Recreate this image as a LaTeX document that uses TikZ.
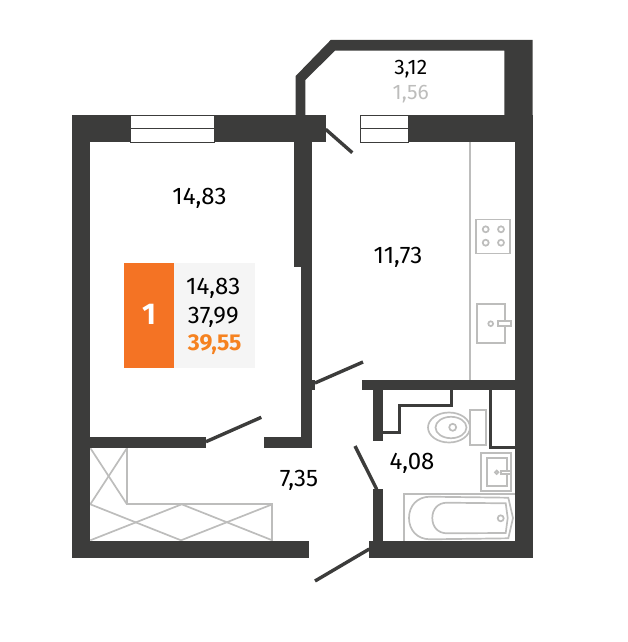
\documentclass[tikz,border=0pt]{standalone}
\usepackage{fontspec}
\setmainfont{Fira Sans}
\definecolor{wallgray}{HTML}{3C3C3B}
\definecolor{fixgray}{HTML}{BDBDBC}
\definecolor{paleblock}{HTML}{F5F5F5}
\definecolor{brandorange}{HTML}{F47324}
\definecolor{sumorange}{HTML}{F58220}
\begin{document}
\begin{tikzpicture}[x=1pt,y=-1pt]
	\tikzstyle{wall} = [fill=wallgray]
	\tikzstyle{leaf} = [draw=wallgray, line width=3.4pt]
	\tikzstyle{thinwall} = [draw=wallgray, line width=3pt]
	\tikzstyle{fixture} = [draw=fixgray, line width=1.7pt]
	\tikzstyle{pane} = [draw=wallgray, fill=white, line width=1pt]
	\tikzstyle{area} = [font=\fontsize{24}{28}\selectfont, inner sep=0pt]
	\useasboundingbox (0,0) rectangle (628,642);
	% kitchen
	\draw[fixture] (470,142) -- (470,380);
	\draw[fixture] (476,219.5) rectangle (510,253.5);
	\foreach \cx in {485.7,501}
		\foreach \cy in {229.3,242.7}
			\draw[fixture] (\cx,\cy) circle (3pt);
	\draw[fixture] (476.7,303.7) rectangle (505,343.3);
	\draw[fixture] (490.7,323.7) circle (2.4pt);
	\draw[fixture, fill=white] (497.7,321) rectangle (510.7,326);
	% toilet
	\draw[fixture] (449,427.5) ellipse (21pt and 15pt);
	\draw[fixture] (451,427.5) ellipse (15.5pt and 10.7pt);
	\draw[fixture] (452.7,427.3) circle (3.5pt);
	\draw[fixture, fill=white] (470,410) rectangle (485.7,444.7);
	% washbasin
	\draw[fixture] (481,452.7) rectangle (511,491);
	\draw[fixture] (486.7,458.3) rectangle (506.7,486.3);
	\draw[fixture] (496.7,472.3) circle (1.7pt);
	\draw[fixture, fill=white] (500.7,470.7) rectangle (511,474);
	% bath
	\draw[fixture] (404.3,541) -- (404.3,493.7) -- (515,493.7);
	\draw[fixture] (430,496.7) -- (508.3,497.7) -- (513,518) -- (508.3,538.3) -- (430,539.3)
		.. controls (417,539.3) and (409,530) .. (409,518)
		.. controls (409,506) and (417,496.7) .. (430,496.7) -- cycle;
	\draw[fixture] (447,502.7) -- (505.7,503.3) -- (507.7,518) -- (505.7,533) -- (447,533.3)
		.. controls (438,533.3) and (432.3,527) .. (432.3,518)
		.. controls (432.3,509) and (438,502.7) .. (447,502.7) -- cycle;
	\draw[fixture] (500.7,518.3) circle (3pt);
	% wardrobe
	\draw[fixture] (127,448) -- (127,504.3) -- (272.3,504.3) -- (272.3,541);
	\draw[fixture] (90.3,448) -- (127,504.3);
	\draw[fixture] (127,448) -- (90.3,504.3);
	\draw[fixture] (90.3,504.3) -- (181,540.3) -- (272.3,504.3);
	\draw[fixture] (90.3,540.3) -- (181.7,504.3) -- (272.3,540.3);
	% outer walls
	\fill[wall] (72,115) rectangle (325.7,142.3);
	\fill[wall] (72,115) rectangle (90.3,558);
	\fill[wall] (72,540.7) rectangle (309,558);
	\fill[wall] (295.7,115) -- (295.7,76) -- (330.7,40) -- (532.7,40) -- (532.7,115) -- (504.3,115)
		-- (504.3,50.7) -- (335,50.7) -- (305.3,80) -- (305.3,115) -- cycle;
	\fill[wall] (408,115) rectangle (532.7,142.3);
	\fill[wall] (515,115) rectangle (532.7,558);
	\fill[wall] (369.3,541) rectangle (532.7,558);
	% inner walls
	\fill[wall] (294.3,142) rectangle (311.7,266.7);
	\fill[wall] (301,266) rectangle (311.7,448);
	\fill[wall] (263.7,437.3) rectangle (311.7,448);
	\fill[wall] (311,380) rectangle (315,390);
	\fill[wall] (90,437.3) rectangle (206,448.3);
	\fill[wall] (361.7,380) rectangle (515,390);
	\fill[wall] (372.7,390) rectangle (383,440.7);
	\fill[wall] (372.7,489.3) rectangle (383,541);
	\draw[thinwall] (383,432.5) -- (399.5,432.5) -- (399.5,405.5) -- (451,405.5) -- (451,390);
	\draw[thinwall] (490.7,390) -- (490.7,447.5) -- (515,447.5);
	% windows
	\draw[pane] (130.7,115.5) rectangle (214,142);
	\draw[pane] (130.7,128.7) -- (214,128.7);
	\draw[pane] (360.5,115.5) rectangle (408,142);
	\draw[pane] (360.5,128.7) -- (408,128.7);
	% doors
	\draw[leaf] (325.7,129.3) -- (352.3,152.7);
	\draw[leaf] (315,383) -- (363,362);
	\draw[leaf] (206,441.7) -- (261.3,417.3);
	\draw[leaf] (355,446) -- (376.7,489.3);
	\draw[leaf] (315,581) -- (369.3,549);
	% room areas
	\node[area] (living) at (199.5,198) {14,83};
	\node[area] (kitchen) at (398,257) {11,73};
	\node[area] (hall) at (299,480) {7,35};
	\node[area] (bathroom) at (412,463.5) {4,08};
	\node[area, font=\fontsize{21}{24}\selectfont] (loggia) at (410.7,69) {3,12};
	\node[area, font=\fontsize{21}{24}\selectfont, text=fixgray] (loggiacut) at (410.7,94) {1,56};
	% summary block
	\fill[paleblock] (174,262.7) rectangle (255,367.7);
	\fill[brandorange] (124,262.7) rectangle (174,367.7);
	\node[area, font=\fontsize{30}{32}\selectfont\bfseries, text=white] (rooms) at (149,314) {1};
	\node[area] (livingsum) at (213.3,288.7) {14,83};
	\node[area] (totalsum) at (213.3,317) {37,99};
	\node[area, font=\fontsize{23}{26}\selectfont\bfseries, text=sumorange] (fullsum) at (214.7,345) {39,55};
\end{tikzpicture}
\end{document}
